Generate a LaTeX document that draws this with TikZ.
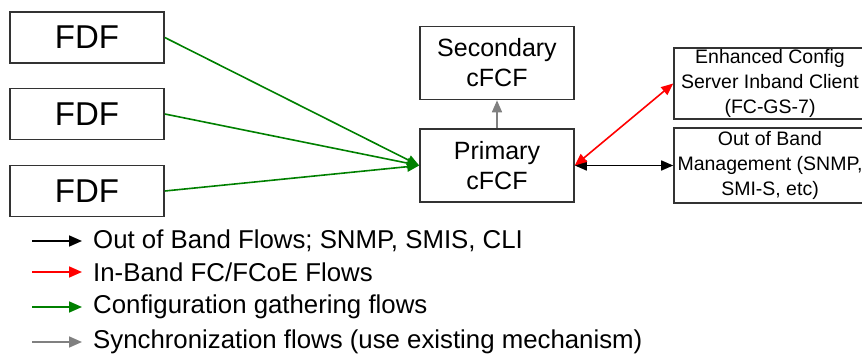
\documentclass[tikz,border=0pt]{standalone}
\usepackage{fontspec}
\setmainfont{Liberation Sans}
\usetikzlibrary{arrows.meta}
\definecolor{flowgreen}{RGB}{0,128,0}
\definecolor{flowred}{RGB}{255,0,0}
\definecolor{flowgray}{RGB}{128,128,128}
\begin{document}
\begin{tikzpicture}[x=1pt,y=-1pt,
  box/.style={draw=black!80, line width=1.6pt, inner sep=0pt, align=center},
  fdfbox/.style={box, minimum width=154pt, minimum height=51pt, font=\fontsize{33}{36}\selectfont},
  cfcfbox/.style={box, minimum width=154pt, minimum height=73pt, font=\fontsize{25}{30}\selectfont},
  rbox/.style={box, minimum width=192pt, minimum height=73pt, font=\fontsize{19.5}{25}\selectfont},
  flow/.style={line width=1.6pt, -{Triangle[length=12pt,width=10pt]}},
  dflow/.style={line width=1.6pt, {Triangle[length=12pt,width=10pt]}-{Triangle[length=12pt,width=10pt]}},
  legtext/.style={anchor=west, inner sep=0pt, font=\fontsize{25.8}{28}\selectfont},
  legflow/.style={line width=1.6pt, -{Triangle[length=13pt,width=11pt]}}]
\useasboundingbox (0,0) rectangle (862,358);

% FDF boxes
\node[fdfbox] (f1) at (87,37.5) {FDF};
\node[fdfbox] (f2) at (87,114) {FDF};
\node[fdfbox] (f3) at (87,191) {FDF};

% cFCF boxes
\node[cfcfbox] (sec) at (497,63) {Secondary\\cFCF};
\node[cfcfbox] (pri) at (497,165.5) {Primary\\cFCF};

% right boxes
\node[rbox, minimum height=71pt] (ecs) at (770,83.5) {Enhanced Config\\Server Inband Client\\(FC-GS-7)};
\node[rbox, minimum height=75pt] (oob) at (770,165.5) {Out of Band\\Management (SNMP,\\SMI-S, etc)};

% connectors
\draw[flow, flowgreen] (f1.east) -- (pri.west);
\draw[flow, flowgreen] (f2.east) -- (pri.west);
\draw[flow, flowgreen] (f3.east) -- (pri.west);
\draw[flow, flowgray] (pri.north) -- (sec.south);
\draw[dflow, black] (pri.east) -- (oob.west);
\draw[dflow, flowred] (pri.east) -- (ecs.west);

% legend
\coordinate (a1) at (32,241); \coordinate (b1) at (82,241);
\coordinate (a2) at (32,272); \coordinate (b2) at (82,272);
\coordinate (a3) at (32,307); \coordinate (b3) at (82,307);
\coordinate (a4) at (32,342); \coordinate (b4) at (82,342);
\draw[legflow, black] (a1) -- (b1);
\draw[legflow, flowred] (a2) -- (b2);
\draw[legflow, flowgreen] (a3) -- (b3);
\draw[legflow, flowgray] (a4) -- (b4);
\node[legtext] (t1) at (93,241) {Out of Band Flows; SNMP, SMIS, CLI};
\node[legtext] (t2) at (93,272) {In-Band FC/FCoE Flows};
\node[legtext] (t3) at (93,307) {Configuration gathering flows};
\node[legtext] (t4) at (93,342) {Synchronization flows (use existing mechanism)};
\end{tikzpicture}
\end{document}
